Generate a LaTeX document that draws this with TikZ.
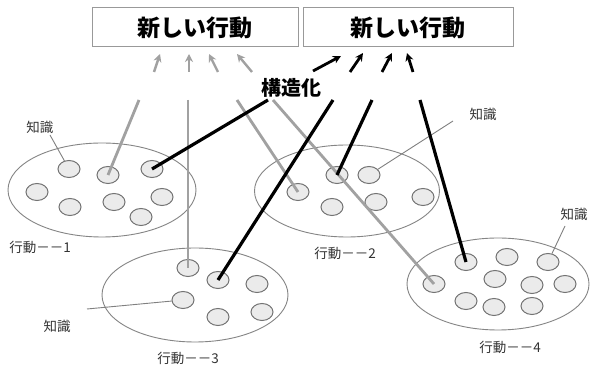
\documentclass[tikz,border=0pt]{standalone}
\usepackage{fontspec}
\newfontfamily\jp{Noto Sans CJK JP}
\usetikzlibrary{arrows.meta,shapes.geometric}
\begin{document}
\begin{tikzpicture}[x=1pt,y=-1pt,
  actbox/.style={draw=black!48, line width=0.9pt, ellipse, minimum width=#1, inner sep=0},
  know/.style={draw=black!55, fill=black!8, line width=1pt, ellipse, minimum width=22pt, minimum height=17pt, inner sep=0},
  newbox/.style={draw=black!40, line width=1pt, minimum height=39pt, inner sep=0, font=\jp\bfseries\fontsize{23}{26}\selectfont},
  lab/.style={font=\jp\fontsize{13.5}{15}\selectfont, text=black!80, inner sep=0},
  glink/.style={draw=black!37, line width=2.8pt},
  blink/.style={draw=black, line width=3.2pt},
  garrow/.style={draw=black!37, line width=2.4pt, -{Stealth[length=8pt,width=8pt]}},
  barrow/.style={draw=black, line width=2.8pt, -{Stealth[length=8pt,width=8pt]}},
  leader/.style={draw=black!50, line width=0.9pt}
]
\useasboundingbox (0,0) rectangle (590,371);
\fill[white] (0,0) rectangle (590,371);

% top boxes
\node[newbox, minimum width=206pt] (nb1) at (195,27.5) {新しい行動};
\node[newbox, minimum width=210pt] (nb2) at (408,27.5) {新しい行動};
\node[font=\jp\bfseries\fontsize{20}{23}\selectfont, inner sep=0] (kz) at (291,88) {構造化};

% activity ellipses
\node[actbox=188pt, minimum height=94pt] (e1) at (102,190) {};
\node[actbox=185pt, minimum height=92pt] (e2) at (347,191) {};
\node[actbox=186pt, minimum height=94pt] (e3) at (195,295) {};
\node[actbox=182pt, minimum height=92pt] (e4) at (498,284) {};

% knowledge circles, ellipse 1
\node[know] (a1) at (69,169) {};
\node[know] (a2) at (108,175) {};
\node[know] (a3) at (152,169) {};
\node[know] (a4) at (37,192) {};
\node[know] (a5) at (70,207) {};
\node[know] (a6) at (114,202) {};
\node[know] (a7) at (162,197) {};
\node[know] (a8) at (141,217) {};
% ellipse 2
\node[know] (b1) at (298,192) {};
\node[know] (b2) at (337,175) {};
\node[know] (b3) at (369,175) {};
\node[know] (b4) at (332,207) {};
\node[know] (b5) at (376,202) {};
\node[know] (b6) at (423,197) {};
% ellipse 3
\node[know] (c1) at (188,268) {};
\node[know] (c2) at (218,280) {};
\node[know] (c3) at (257,284) {};
\node[know] (c4) at (183,300) {};
\node[know] (c5) at (218,317) {};
\node[know] (c6) at (262,312) {};
% ellipse 4
\node[know] (d1) at (466,262) {};
\node[know] (d2) at (507,257) {};
\node[know] (d3) at (548,262) {};
\node[know] (d4) at (495,279) {};
\node[know] (d5) at (434,284) {};
\node[know] (d6) at (532,285) {};
\node[know] (d7) at (565,284) {};
\node[know] (d8) at (466,301) {};
\node[know] (d9) at (494,307) {};
\node[know] (d10) at (532,306) {};

% labels
\node[lab] (k1) at (40,127) {知識};
\node[lab] (k2) at (483,114) {知識};
\node[lab] (k3) at (574,214) {知識};
\node[lab] (k4) at (57,326) {知識};
\node[lab] (l1) at (40,247) {行動－－1};
\node[lab] (l2) at (345,253) {行動－－2};
\node[lab] (l3) at (188,358) {行動－－3};
\node[lab] (l4) at (510,347) {行動－－4};

% leader lines
\coordinate (q1) at (50,135);
\coordinate (q2) at (453,121);
\coordinate (q3) at (565,226);
\coordinate (q4) at (87,309);
\draw[leader] (q1) -- (a1);
\draw[leader] (q2) -- (b3);
\draw[leader] (q3) -- (d3);
\draw[leader] (q4) -- (c4);

% gray links
\coordinate (g1) at (139,100);
\coordinate (g2) at (188,100);
\coordinate (g3) at (237,100);
\coordinate (g4) at (273,100);
\draw[glink] (g1) -- (a2.center);
\draw[glink] (g2) -- (c1.center);
\draw[glink] (g3) -- (b1.center);
\draw[glink] (g4) -- (d5.center);

% black links
\coordinate (h1) at (268,100);
\coordinate (h2) at (333,100);
\coordinate (h3) at (372,100);
\coordinate (h4) at (420,100);
\draw[blink] (h1) -- (a3.center);
\draw[blink] (h2) -- (c2.center);
\draw[blink] (h3) -- (b2.center);
\draw[blink] (h4) -- (d1.center);

% gray arrows
\coordinate (ga1) at (154,72); \coordinate (gb1) at (160,54);
\coordinate (ga2) at (189,72); \coordinate (gb2) at (189,54);
\coordinate (ga3) at (218,72); \coordinate (gb3) at (209,54);
\coordinate (ga4) at (252,72); \coordinate (gb4) at (237,54);
\draw[garrow] (ga1) -- (gb1);
\draw[garrow] (ga2) -- (gb2);
\draw[garrow] (ga3) -- (gb3);
\draw[garrow] (ga4) -- (gb4);

% black arrows
\coordinate (ba1) at (313,71); \coordinate (bb1) at (341,56);
\coordinate (ba2) at (350,72); \coordinate (bb2) at (363,53);
\coordinate (ba3) at (382,72); \coordinate (bb3) at (392,53);
\coordinate (ba4) at (413,72); \coordinate (bb4) at (407,53);
\draw[barrow] (ba1) -- (bb1);
\draw[barrow] (ba2) -- (bb2);
\draw[barrow] (ba3) -- (bb3);
\draw[barrow] (ba4) -- (bb4);
\end{tikzpicture}
\end{document}
